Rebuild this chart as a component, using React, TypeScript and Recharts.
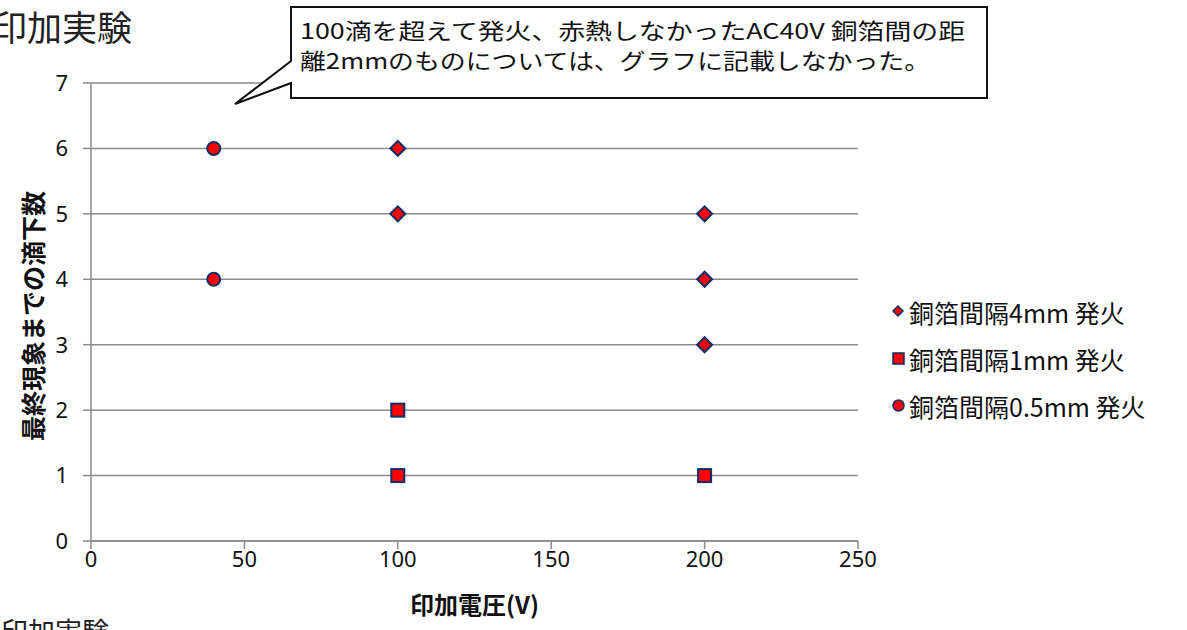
import { ScatterChart, Scatter, XAxis, YAxis, CartesianGrid, Legend, Label } from "recharts";

const xTicks = [0, 50, 100, 150, 200, 250];
const yTicks = [0, 1, 2, 3, 4, 5, 6, 7];

// 銅箔間隔4mm
const gap4mmX = [100, 100, 200, 200, 200];
const gap4mmY = [6, 5, 5, 4, 3];
// 銅箔間隔1mm
const gap1mmX = [100, 100, 200];
const gap1mmY = [2, 1, 1];
// 銅箔間隔0.5mm
const gap05mmX = [40, 40];
const gap05mmY = [6, 4];

const seriesNames = ["銅箔間隔4mm 発火", "銅箔間隔1mm 発火", "銅箔間隔0.5mm 発火"];

const toPoints = (xs: number[], ys: number[]) => xs.map((x, i) => ({ x, y: ys[i] }));

const RED = "#FF0000";
const NAVY = "#0E2C66";
const GRID = "#8A8A8A";

const Diamond = (p: any) => {
  const { cx, cy } = p;
  const r = 7.5;
  return <path d={`M${cx},${cy - r}L${cx + r},${cy}L${cx},${cy + r}L${cx - r},${cy}Z`} fill={RED} stroke={NAVY} strokeWidth={2} />;
};
const Square = (p: any) => {
  const { cx, cy } = p;
  return <rect x={cx - 6.5} y={cy - 6.5} width={13} height={13} fill={RED} stroke={NAVY} strokeWidth={2} />;
};
const Circle = (p: any) => {
  const { cx, cy } = p;
  return <circle cx={cx} cy={cy} r={6.5} fill={RED} stroke={NAVY} strokeWidth={2} />;
};

const legendIcons = [
  <path d="M6,1L11,6L6,11L1,6Z" fill={RED} stroke={NAVY} strokeWidth={1.5} />,
  <rect x={1} y={1} width={11} height={11} fill={RED} stroke={NAVY} strokeWidth={1.5} />,
  <circle cx={6.5} cy={6.5} r={5.5} fill={RED} stroke={NAVY} strokeWidth={1.5} />,
];

const LegendBox = () => (
  <div style={{ fontFamily: "'Noto Sans CJK JP', 'Noto Sans', sans-serif", fontSize: 25, color: "#111" }}>
    {seriesNames.map((name, i) => (
      <div key={name} style={{ display: "flex", alignItems: "center", height: 47, whiteSpace: "nowrap" }}>
        <svg width={14} height={14} style={{ marginRight: 3 }}>{legendIcons[i]}</svg>
        <span>{name}</span>
      </div>
    ))}
  </div>
);

const tickStyle = { fill: "#111", fontSize: 22, fontFamily: "'Noto Sans', sans-serif" };
const titleFont = "'Noto Sans CJK JP', sans-serif";

export default function App() {
  return (
    <div style={{ position: "relative", width: 1187, height: 630, overflow: "hidden", background: "#fff" }}>
      <style>{"body{margin:0}"}</style>
      <ScatterChart width={1187} height={630} margin={{ top: 83, right: 39, bottom: 59, left: 31 }}>
        <CartesianGrid vertical={false} stroke={GRID} strokeWidth={1.5} />
        <XAxis
          type="number" dataKey="x" domain={[0, 250]} ticks={xTicks} interval={0}
          height={30} stroke={GRID} strokeWidth={1.5} tickSize={8} tickMargin={2} tick={tickStyle}
        >
          <Label
            content={(props: any) => {
              const vb = props.viewBox;
              return (
                <text x={vb.x + vb.width / 2} y={vb.y + 73} textAnchor="middle" fontSize={24} fontWeight={700}
                  fontFamily={titleFont} fill="#111">印加電圧(V)</text>
              );
            }}
          />
        </XAxis>
        <YAxis
          type="number" dataKey="y" domain={[0, 7]} ticks={yTicks} interval={0}
          width={60} stroke={GRID} strokeWidth={1.5} tickSize={8} tickMargin={15} tick={tickStyle}
        >
          <Label
            content={(props: any) => {
              const vb = props.viewBox;
              const cx = vb.x + 1;
              const cy = vb.y + vb.height / 2 + 4;
              return (
                <text x={cx} y={cy} transform={`rotate(-90 ${cx} ${cy})`} textAnchor="middle" dominantBaseline="central"
                  fontSize={25} fontWeight={700} fontFamily={titleFont} fill="#111">最終現象までの滴下数</text>
              );
            }}
          />
        </YAxis>
        <Legend
          layout="vertical" align="right" verticalAlign="middle" width={290}
          wrapperStyle={{ left: 892, top: 288 }}
          content={() => <LegendBox />}
        />
        <Scatter name={seriesNames[0]} data={toPoints(gap4mmX, gap4mmY)} shape={Diamond} isAnimationActive={false} />
        <Scatter name={seriesNames[1]} data={toPoints(gap1mmX, gap1mmY)} shape={Square} isAnimationActive={false} />
        <Scatter name={seriesNames[2]} data={toPoints(gap05mmX, gap05mmY)} shape={Circle} isAnimationActive={false} />
      </ScatterChart>

      <svg width={1187} height={630} style={{ position: "absolute", left: 0, top: 0, pointerEvents: "none" }}>
        <text x={-8} y={41} fontSize={35} fontFamily={titleFont} fill="#222">印加実験</text>
        <text x={1} y={642} fontSize={27} fontFamily={titleFont} fill="#222">印加実験</text>
        <path d="M291,7 L987,7 L987,98 L291,98 L291,83 L235,104 L291,61 Z" fill="#fff" stroke="#111" strokeWidth={2} />
        <text x={300} y={39} fontSize={22} fontFamily={titleFont} fill="#111" textLength={665} lengthAdjust="spacingAndGlyphs">
          100滴を超えて発火、赤熱しなかったAC40V 銅箔間の距
        </text>
        <text x={300} y={69} fontSize={22} fontFamily={titleFont} fill="#111" textLength={630} lengthAdjust="spacingAndGlyphs">
          離2mmのものについては、グラフに記載しなかった。
        </text>
      </svg>
    </div>
  );
}
